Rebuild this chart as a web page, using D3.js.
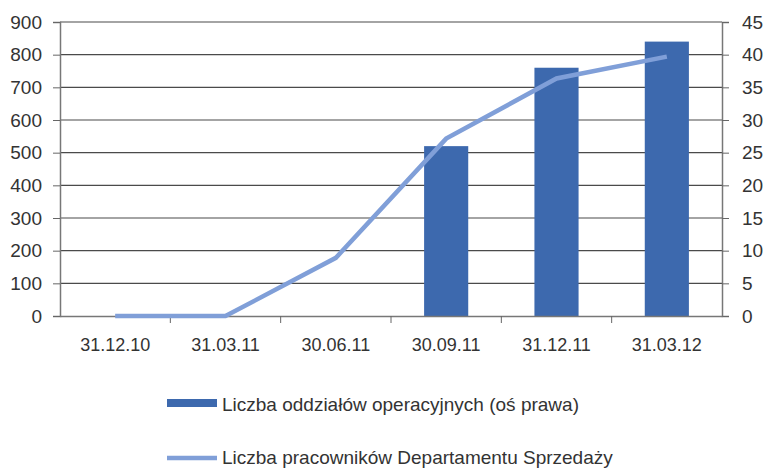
<!DOCTYPE html>
<html>
<head>
<meta charset="utf-8">
<script src="https://cdn.jsdelivr.net/npm/d3@7"></script>
<style>
  body { margin: 0; background: #fff; }
  svg text { font-family: "Liberation Sans", "DejaVu Sans", sans-serif; fill: #333; }
</style>
</head>
<body>
<div id="chart"></div>
<script>
// dates on the x axis
const categories = ['31.12.10', '31.03.11', '30.06.11', '30.09.11', '31.12.11', '31.03.12'];
// bars, right axis
const branches = [0, 0, 0, 26, 38, 42];
// line, left axis
const employees = [0, 0, 178, 543, 727, 794];
const leftTicks = [0, 100, 200, 300, 400, 500, 600, 700, 800, 900];
const rightTicks = [0, 5, 10, 15, 20, 25, 30, 35, 40, 45];
const barLabel = 'Liczba oddziałów operacyjnych (oś prawa)';
const lineLabel = 'Liczba pracowników Departamentu Sprzedaży';

const chartWidth = 765;
const chartHeight = 469;
const plotLeft = 60, plotRight = 722, plotTop = 22, plotBottom = 316;

const svg = d3.select('#chart').append('svg')
  .attr('width', chartWidth)
  .attr('height', chartHeight);

const x = d3.scaleBand().domain(categories).range([plotLeft, plotRight]).paddingInner(0).paddingOuter(0);
const yLeft = d3.scaleLinear().domain([0, 900]).range([plotBottom, plotTop]);
const yRight = d3.scaleLinear().domain([0, 45]).range([plotBottom, plotTop]);

// gridlines
svg.append('g')
  .selectAll('line')
  .data(leftTicks.slice(1))
  .enter()
  .append('line')
  .attr('x1', plotLeft).attr('x2', plotRight)
  .attr('y1', d => yLeft(d)).attr('y2', d => yLeft(d))
  .attr('stroke', '#4a4a4a')
  .attr('stroke-width', 1.2);

// bars
svg.append('g')
  .selectAll('rect')
  .data(categories.map((c, i) => ({c: c, v: branches[i]})).filter(d => d.v > 0))
  .enter()
  .append('rect')
  .attr('x', d => x(d.c) + x.bandwidth() * 0.3)
  .attr('width', x.bandwidth() * 0.4)
  .attr('y', d => yRight(d.v))
  .attr('height', d => yRight(0) - yRight(d.v))
  .attr('fill', '#3d69ae');

// axes
const leftAxis = svg.append('g')
  .attr('transform', 'translate(' + plotLeft + ',0)')
  .call(d3.axisLeft(yLeft).tickValues(leftTicks).tickSize(7).tickPadding(11));
const rightAxis = svg.append('g')
  .attr('transform', 'translate(' + plotRight + ',0)')
  .call(d3.axisRight(yRight).tickValues(rightTicks).tickSize(7).tickPadding(13));
const bottomAxis = svg.append('g')
  .attr('transform', 'translate(0,' + plotBottom + ')')
  .call(d3.axisBottom(x).tickSize(0).tickPadding(22));

// category separators below the axis
svg.append('g')
  .selectAll('line')
  .data(categories.slice(1))
  .enter()
  .append('line')
  .attr('x1', d => x(d)).attr('x2', d => x(d))
  .attr('y1', plotBottom).attr('y2', plotBottom + 7)
  .attr('stroke', '#666');

[leftAxis, rightAxis, bottomAxis].forEach(a => {
  a.select('.domain').attr('stroke', '#777').attr('stroke-width', 1.5);
  a.selectAll('.tick line').attr('stroke', '#666');
  a.selectAll('text').attr('fill', '#333');
});
leftAxis.selectAll('text').style('font-size', '19px');
rightAxis.selectAll('text').style('font-size', '19px');
bottomAxis.selectAll('text').style('font-size', '18px');

// line
const line = d3.line()
  .x((d, i) => x(categories[i]) + x.bandwidth() / 2)
  .y(d => yLeft(d));

svg.append('path')
  .attr('d', line(employees))
  .attr('fill', 'none')
  .attr('stroke', '#809fd8')
  .attr('stroke-width', 4.5);

// legend
const legend = svg.append('g');
legend.append('rect')
  .attr('x', 167).attr('y', 399).attr('width', 50).attr('height', 8)
  .attr('fill', '#3d69ae');
legend.append('text')
  .attr('x', 222).attr('y', 411)
  .style('font-size', '19px')
  .text(barLabel);
legend.append('line')
  .attr('x1', 167).attr('x2', 217).attr('y1', 458).attr('y2', 458)
  .attr('stroke', '#809fd8').attr('stroke-width', 4.5);
legend.append('text')
  .attr('x', 222).attr('y', 464)
  .style('font-size', '19px')
  .text(lineLabel);
</script>
</body>
</html>
